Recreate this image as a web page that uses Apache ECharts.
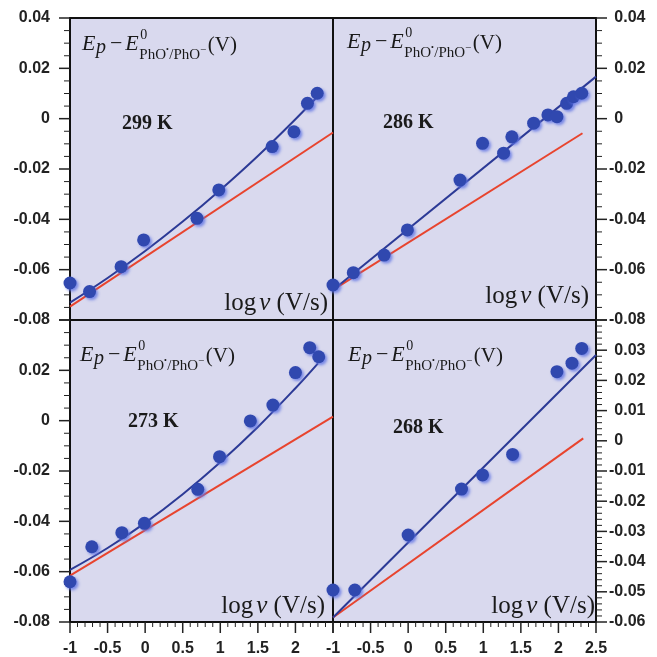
<!DOCTYPE html>
<html><head><meta charset="utf-8">
<script src="https://cdn.jsdelivr.net/npm/echarts@6/dist/echarts.min.js"></script>
<style>html,body{margin:0;padding:0;background:#fff}#c{width:657px;height:657px}</style>
</head><body><div id="c"></div>
<script>
// ---- data ----
const xRange = [-1, 2.5];
const yRangeMain = [-0.08, 0.04];
const yRange268 = [-0.06, 0.04];
const temps = ['299 K', '286 K', '273 K', '268 K'];

// tick values
const xMajor = [-1,-0.5,0,0.5,1,1.5,2,2.5];
const xMinor = [-0.9,-0.8,-0.7,-0.6,-0.4,-0.3,-0.2,-0.1,0.1,0.2,0.3,0.4,0.6,0.7,0.8,0.9,1.1,1.2,1.3,1.4,1.6,1.7,1.8,1.9,2.1,2.2,2.3,2.4];
const yMajorMain = [-0.08,-0.06,-0.04,-0.02,0,0.02,0.04];
const yMinorMain = [-0.075,-0.07,-0.065,-0.055,-0.05,-0.045,-0.035,-0.03,-0.025,-0.015,-0.01,-0.005,0.005,0.01,0.015,0.025,0.03,0.035];
const yMajor268 = [-0.06,-0.05,-0.04,-0.03,-0.02,-0.01,0,0.01,0.02,0.03,0.04];
const yMinor268 = [-0.058,-0.056,-0.054,-0.052,-0.048,-0.046,-0.044,-0.042,-0.038,-0.036,-0.034,-0.032,
  -0.028,-0.026,-0.024,-0.022,-0.018,-0.016,-0.014,-0.012,-0.008,-0.006,-0.004,-0.002,
  0.002,0.004,0.006,0.008,0.012,0.014,0.016,0.018,0.022,0.024,0.026,0.028,0.032,0.034,0.036,0.038];

const dots299 = [[-1,-0.0653],[-0.74,-0.0687],[-0.32,-0.0588],[-0.02,-0.0482],[0.69,-0.0396],[0.98,-0.0283],[1.69,-0.0111],[1.98,-0.0052],[2.16,0.0061],[2.29,0.0101]];
const blue299 = [[-1,-0.0731],[-0.5,-0.0633],[0,-0.0526],[0.5,-0.0409],[1,-0.0283],[1.5,-0.0148],[2,-0.0002],[2.35,0.0105]];
const red299  = [[-1,-0.0747],[2.5,-0.0055]];

const dots286 = [[-1,-0.0661],[-0.73,-0.0612],[-0.32,-0.0542],[-0.01,-0.0442],[0.69,-0.0244],[0.99,-0.0098],[1.27,-0.0137],[1.38,-0.0072],[1.67,-0.0018],[1.86,0.0015],[1.98,0.0008],[2.11,0.0061],[2.2,0.0087],[2.31,0.0101]];
const blue286 = [[-1,-0.0681],[2.5,0.0167]];
const red286  = [[-1,-0.068],[2.32,-0.0058]];

const dots273 = [[-1,-0.064],[-0.71,-0.0501],[-0.31,-0.0445],[-0.01,-0.0408],[0.7,-0.0273],[0.99,-0.0143],[1.4,-0.0001],[1.7,0.0062],[2,0.0191],[2.19,0.029],[2.31,0.0254]];
const blue273 = [[-1,-0.0593],[-0.5,-0.0506],[0,-0.0406],[0.5,-0.0292],[1,-0.0165],[1.5,-0.0025],[2,0.0129],[2.3,0.0228]];
const red273  = [[-1,-0.0616],[2.5,0.0016]];

const dots268 = [[-1,-0.0494],[-0.71,-0.0494],[0,-0.0312],[0.71,-0.016],[0.99,-0.0113],[1.39,-0.0045],[1.98,0.0229],[2.18,0.0257],[2.31,0.0306]];
const blue268 = [[-1,-0.0585],[2.5,0.0284]];
const red268  = [[-1,-0.0585],[2.33,0.0008]];

// ---- layout ----
const PW = 263, PH = 302;
const panels = [
  {left:70,  top:18,  ann:[12,34], temp:[52,106]},
  {left:333, top:18,  ann:[14,32], temp:[50,105]},
  {left:70,  top:320, ann:[10,43], temp:[58,102]},
  {left:333, top:320, ann:[15,43], temp:[60,108]}
];
const logPos = [[5,294],[7,287],[8,295],[1,295]];

const BG = '#d9d9ee', FRAME = '#111', TICK = '#222';
function labelStyle(){ return {fontFamily:'Liberation Sans', fontSize:16, fontWeight:'bold', color:'#222'}; }

function xAx(gi, show, hideMax){
  return {type:'value', gridIndex:gi, min:xRange[0], max:xRange[1], interval:0.5,
    axisLine:{show:true, onZero:false, lineStyle:{color:FRAME, width:2}},
    splitLine:{show:false}, minorSplitLine:{show:false},
    axisTick:{show:false}, minorTick:{show:false},
    axisLabel:Object.assign({show:show, margin:19, showMaxLabel:!hideMax, showMinLabel:true}, labelStyle())};
}
const padNeg = v => (v >= 0 ? '{h|-}' : '') + v;
function yAx(gi, right, range, step, hideMax){
  const lab = Object.assign({show:true, margin:right?13:20, showMaxLabel:!hideMax, showMinLabel:true}, labelStyle());
  if (right) {
    lab.formatter = padNeg;
    lab.rich = {h:Object.assign(labelStyle(), {color:'transparent'})};
  }
  const ax = {type:'value', gridIndex:gi, min:range[0], max:range[1], interval:step,
    axisLine:{show:true, onZero:false, lineStyle:{color:FRAME, width:2}},
    splitLine:{show:false}, minorSplitLine:{show:false},
    axisTick:{show:false}, minorTick:{show:false},
    axisLabel:lab};
  if (right) ax.position = 'right';
  return ax;
}

// tick marks drawn through the axes' own scales (custom series)
function tickSeries(gi, pts, dir, len, width){
  return {type:'custom', xAxisIndex:gi, yAxisIndex:gi, data:pts, clip:false, silent:true, z:1,
    renderItem:function(params, api){
      const p = api.coord([api.value(0), api.value(1)]);
      const d = dir === 'left' ? [-len,0] : dir === 'right' ? [len,0] : [0,len];
      return {type:'line', shape:{x1:p[0], y1:p[1], x2:p[0]+d[0], y2:p[1]+d[1]},
              style:{stroke:TICK, lineWidth:width}};
    }};
}
const atX = (x, vals) => vals.map(v => [x, v]);
const atY = (y, vals) => vals.map(v => [v, y]);

function panelSeries(i, dots, blue, red, smooth){
  return [
    {type:'line', xAxisIndex:i, yAxisIndex:i, data:red, symbol:'none', z:2,
     lineStyle:{color:'#e8442e', width:2}},
    {type:'line', xAxisIndex:i, yAxisIndex:i, data:blue, symbol:'none', z:3,
     smooth:smooth ? 0.4 : false, lineStyle:{color:'#2c3a96', width:2}},
    {type:'scatter', xAxisIndex:i, yAxisIndex:i, data:dots, symbolSize:13, z:4,
     itemStyle:{color:'#3048af', opacity:1, shadowColor:'rgba(95,115,228,0.8)', shadowBlur:3, shadowOffsetX:2, shadowOffsetY:2}}
  ];
}

// ---- text layout helpers ----
const mctx = document.createElement('canvas').getContext('2d');
function tw(font, t){ mctx.font = font; return mctx.measureText(t).width; }
const SERIF = '"Liberation Serif"';
function fnt(size, style, weight){ return (style||'normal') + ' ' + (weight||'normal') + ' ' + size + 'px ' + SERIF; }
function T(x, base, text, size, style, weight){
  return {type:'text', x:x, y:base - 0.3375*size, silent:true,
    style:{text:text, font:fnt(size, style, weight), fill:'#1a1a1a', align:'left', verticalAlign:'middle'}};
}

const graphics = [];
panels.forEach((p, i) => {
  // E_p - E^0_{PhO•/PhO−} (V)
  let x = p.left + p.ann[0], b = p.top + p.ann[1];
  graphics.push(T(x, b, 'E', 22, 'italic'));
  x += tw(fnt(22,'italic'), 'E') + 0.5;
  graphics.push(T(x, b + 2, 'p', 20, 'italic'));
  x += tw(fnt(20,'italic'), 'p') + 4;
  graphics.push(T(x, b, '\u2212', 22));
  x += tw(fnt(22), '\u2212') + 3;
  graphics.push(T(x, b, 'E', 22, 'italic'));
  x += tw(fnt(22,'italic'), 'E') + 0.5;
  graphics.push(T(x + 1, b - 12, '0', 14));
  graphics.push(T(x, b + 8, 'PhO', 15));
  x += tw(fnt(15), 'PhO');
  graphics.push(T(x, b + 1, '\u2022', 8));
  x += tw(fnt(8), '\u2022') + 0.5;
  graphics.push(T(x, b + 8, '/PhO', 15));
  x += tw(fnt(15), '/PhO');
  graphics.push(T(x, b + 2, '\u2212', 11));
  x += tw(fnt(11), '\u2212') + 1.5;
  graphics.push(T(x, b + 1, '(V)', 21));

  // temperature (temp[1] = vertical centre)
  graphics.push(T(p.left + p.temp[0], p.top + p.temp[1] + 0.3375*20, temps[i], 20, 'normal', 'bold'));

  // log v (V/s)
  const s = 25;
  const w1 = tw(fnt(s), 'log'), w2 = tw(fnt(s,'italic'), 'v'), w3 = tw(fnt(s), ' (V/s)');
  let rx = p.left + PW - logPos[i][0] - (w1 + 3 + w2 + w3);
  const lb = p.top + logPos[i][1];
  graphics.push(T(rx, lb, 'log', s));
  rx += w1 + 3;
  graphics.push(T(rx, lb, 'v', s, 'italic'));
  rx += w2;
  graphics.push(T(rx, lb, ' (V/s)', s));
});

const grids = panels.map(p => ({left:p.left, top:p.top, width:PW, height:PH, show:true,
  backgroundColor:BG, borderColor:FRAME, borderWidth:2, containLabel:false, outerBoundsMode:'none'}));

const ticks = [
  tickSeries(0, atX(xRange[0], yMajorMain), 'left', 11, 1.5),
  tickSeries(0, atX(xRange[0], yMinorMain), 'left', 6, 1),
  tickSeries(1, atX(xRange[1], yMajorMain), 'right', 11, 1.5),
  tickSeries(1, atX(xRange[1], yMinorMain), 'right', 6, 1),
  tickSeries(2, atX(xRange[0], yMajorMain), 'left', 11, 1.5),
  tickSeries(2, atX(xRange[0], yMinorMain), 'left', 6, 1),
  tickSeries(3, atX(xRange[1], yMajor268), 'right', 11, 1.5),
  tickSeries(3, atX(xRange[1], yMinor268), 'right', 6, 1),
  tickSeries(2, atY(yRangeMain[0], xMajor), 'down', 11, 1.5),
  tickSeries(2, atY(yRangeMain[0], xMinor), 'down', 5, 1),
  tickSeries(3, atY(yRange268[0], xMajor), 'down', 11, 1.5),
  tickSeries(3, atY(yRange268[0], xMinor), 'down', 5, 1)
];

const chart = echarts.init(document.getElementById('c'));
chart.setOption({
  animation:false,
  grid:grids,
  xAxis:[xAx(0,false,false), xAx(1,false,false), xAx(2,true,true), xAx(3,true,false)],
  yAxis:[yAx(0,false,yRangeMain,0.02,false), yAx(1,true,yRangeMain,0.02,false),
         yAx(2,false,yRangeMain,0.02,true), yAx(3,true,yRange268,0.01,true)],
  series:[].concat(
    ticks,
    panelSeries(0, dots299, blue299, red299, true),
    panelSeries(1, dots286, blue286, red286, false),
    panelSeries(2, dots273, blue273, red273, true),
    panelSeries(3, dots268, blue268, red268, false)
  ),
  graphic:{elements:graphics}
});
</script></body></html>
